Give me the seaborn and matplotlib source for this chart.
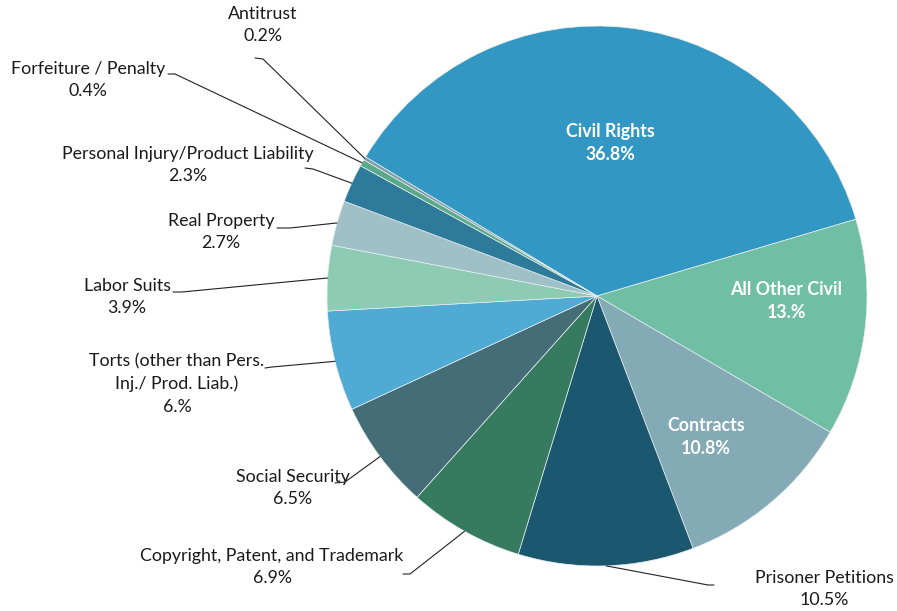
import numpy as np
import matplotlib.pyplot as plt
import seaborn as sns

# Share of civil cases by nature of suit
categories = ["Civil Rights", "All Other Civil", "Contracts", "Prisoner Petitions",
              "Copyright, Patent, and Trademark", "Social Security",
              "Torts (other than Pers.\nInj./ Prod. Liab.)", "Labor Suits",
              "Real Property", "Personal Injury/Product Liability",
              "Forfeiture / Penalty", "Antitrust"]
shares = [36.8, 13.0, 10.8, 10.5, 6.9, 6.5, 6.0, 3.9, 2.7, 2.3, 0.4, 0.2]
pct_labels = ["36.8%", "13.%", "10.8%", "10.5%", "6.9%", "6.5%", "6.%",
              "3.9%", "2.7%", "2.3%", "0.4%", "0.2%"]
colors = ["#3298c3", "#70bfa5", "#83aab5", "#1b5870", "#367a60", "#456d77",
          "#4fabd4", "#8dcbb5", "#a0c0c8", "#2e7a9a", "#5aa98a", "#7f9ca8"]

sns.set_theme(style="white")
plt.rcParams['font.family'] = ['Lato', 'DejaVu Sans']

W, H = 897, 611
CX, CY, R = 597, 296, 270


def px(x, y):
    # pixel position -> data coords (pie radius = 1)
    return (x - CX) / R, (CY - y) / R


fig = plt.figure(figsize=(W / 100, H / 100), dpi=100)
ax = fig.add_axes([0, 0, 1, 1])
wedges, _ = ax.pie(shares, colors=colors, startangle=149, counterclock=False,
                   wedgeprops=dict(linewidth=0.5, edgecolor="#e8eef0"))
ax.set_xlim(-CX / R, (W - CX) / R)
ax.set_ylim(-(H - CY) / R, CY / R)
ax.set_aspect("auto")
ax.axis("off")

# labels inside the big slices
inside = {0: (610, 143), 1: (786, 301), 2: (706, 437)}
for i, (x, y) in inside.items():
    ax.text(*px(x, y), f"{categories[i]}\n{pct_labels[i]}", ha="center", va="center",
            color="white", fontsize=12.8, fontweight="bold", linespacing=1.48)

# outside labels: text centre, leader stub start, stub end
outside = {
    3: ((824, 589), (714, 585), (708, 585)),
    4: ((272, 567), (403, 574), (410, 574)),
    5: ((293, 488), (335, 483), (345, 482)),
    6: ((177, 384), (265, 368), (272, 367)),
    7: ((127, 297), (173, 292), (182, 292)),
    8: ((221, 232), (277, 228), (290, 228)),
    9: ((188, 165), (305, 168), (313, 169)),
    10: ((88, 80), (168, 74), (175, 74)),
    11: ((263, 25), (255, 58), (263, 59)),
}
for i, (tpos, s0, s1) in outside.items():
    ax.text(*px(*tpos), f"{categories[i]}\n{pct_labels[i]}", ha="center", va="center",
            color="#1a1a1a", fontsize=12.8, linespacing=1.5)
    w = wedges[i]
    mid = np.deg2rad((w.theta1 + w.theta2) / 2)
    xs = [px(*s0)[0], px(*s1)[0], np.cos(mid)]
    ys = [px(*s0)[1], px(*s1)[1], np.sin(mid)]
    ax.plot(xs, ys, color="#222222", lw=0.8)

fig.savefig("out.png", dpi=100)
